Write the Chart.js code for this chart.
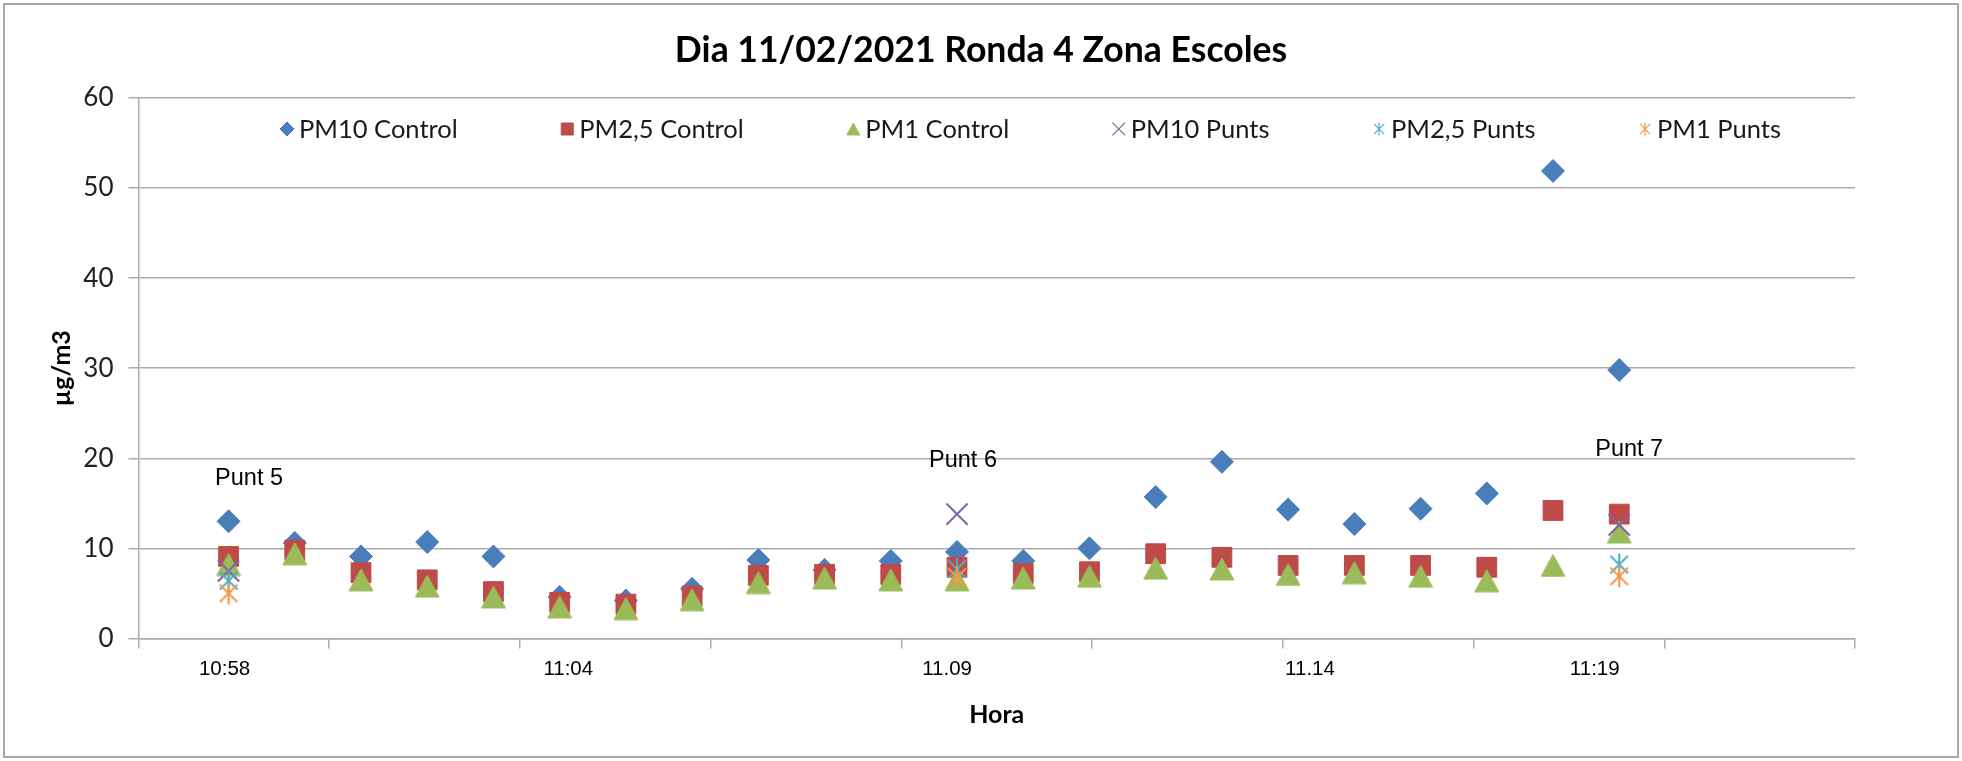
<!DOCTYPE html>
<html>
<head>
<meta charset="utf-8">
<title>Dia 11/02/2021 Ronda 4 Zona Escoles</title>
<script src="https://cdn.jsdelivr.net/npm/chart.js@4.4.1/dist/chart.umd.min.js"></script>
<style>
  html, body { margin: 0; padding: 0; background: #fff; }
  #wrap { width: 1962px; height: 761px; }
</style>
</head>
<body>
<div id="wrap"><canvas id="chart" width="1962" height="761"></canvas></div>
<script>
(() => {
  "use strict";

  // ====== Data (one reading per minute) ======
  const times = [
    "10:58", "10:59", "11:00", "11:01", "11:02", "11:03", "11:04", "11:05",
    "11:06", "11:07", "11:08", "11:09", "11:10", "11:11", "11:12", "11:13",
    "11:14", "11:15", "11:16", "11:17", "11:18", "11:19"
  ];

  const pm10Control = [13.0, 10.6, 9.1, 10.7, 9.1, 4.6, 4.2, 5.5, 8.7, 7.6, 8.6,
                       9.6, 8.6, 10.0, 15.7, 19.6, 14.3, 12.7, 14.4, 16.1, 51.9, 29.8];
  const pm25Control = [9.1, 9.8, 7.3, 6.5, 5.2, 4.0, 3.8, 4.7, 7.0, 7.1, 7.1,
                       7.9, 7.2, 7.4, 9.4, 9.0, 8.1, 8.1, 8.1, 7.9, 14.2, 13.8];
  const pm1Control  = [8.2, 9.4, 6.5, 5.8, 4.6, 3.5, 3.3, 4.3, 6.2, 6.7, 6.5,
                       6.5, 6.7, 6.9, 7.8, 7.7, 7.1, 7.3, 6.9, 6.4, 8.1, 11.8];

  // measurements at the three points (Punt 5, 6, 7)
  const pm10Punts = [7.5, null, null, null, null, null, null, null, null, null, null,
                     13.8, null, null, null, null, null, null, null, null, null, 12.6];
  const pm25Punts = [6.4, null, null, null, null, null, null, null, null, null, null,
                     7.7, null, null, null, null, null, null, null, null, null, 8.2];
  const pm1Punts  = [5.0, null, null, null, null, null, null, null, null, null, null,
                     6.8, null, null, null, null, null, null, null, null, null, 6.9];

  // x axis like the spreadsheet: day fractions 0.456 .. 0.474, major unit 0.002
  const xMinDay = 0.456;
  const xMaxDay = 0.474;
  const xStepDay = 0.002;

  // hand-placed time labels under the axis (minutes since midnight)
  const axisLabels = ["10:58", "11:04", "11.09", "11.14", "11:19"];
  const axisLabelAt = [657.94, 663.13, 668.85, 674.33, 678.63];

  // "Punt" notes (minutes, µg/m3)
  const puntNotes = ["Punt 5", "Punt 6", "Punt 7"];
  const puntNoteX = [658.31, 669.09, 679.15];
  const puntNoteY = [17.8, 19.8, 21.0];

  const TITLE = "Dia 11/02/2021 Ronda 4 Zona Escoles";

  // ====== Style ======
  const COLORS = {
    pm10: "#4A7EBB",
    pm25: "#BE4B48",
    pm1: "#9BBB59",
    pm10p: "#8064A2",
    pm25p: "#4BACC6",
    pm1p: "#F79646"
  };
  const GRID = "#ababab";
  const CALIBRI = "Lato, 'Liberation Sans', sans-serif";
  const ARIAL = "'Liberation Sans', Arial, sans-serif";

  const toMinutes = (t) => {
    const [h, m] = t.split(":").map(Number);
    return h * 60 + m;
  };

  function toPoints(values) {
    const pts = [];
    values.forEach((v, i) => {
      if (v !== null) pts.push({ x: toMinutes(times[i]), y: v });
    });
    return pts;
  }

  // Excel-ish markers that Chart.js has no style for
  function triangleMarker(w, h, color) {
    const c = document.createElement("canvas");
    c.width = w + 2;
    c.height = h + 2;
    const g = c.getContext("2d");
    g.fillStyle = color;
    g.strokeStyle = color;
    g.beginPath();
    g.moveTo(c.width / 2, 1);
    g.lineTo(w + 1, h + 1);
    g.lineTo(1, h + 1);
    g.closePath();
    g.fill();
    g.stroke();
    return c;
  }

  function starMarker(size, color, lw) {
    const c = document.createElement("canvas");
    c.width = c.height = Math.ceil(size + lw * 2);
    const g = c.getContext("2d");
    const m = c.width / 2;
    const r = size / 2;
    const d = r * 0.8;
    g.strokeStyle = color;
    g.lineWidth = lw;
    g.beginPath();
    g.moveTo(m, m - r); g.lineTo(m, m + r);
    g.moveTo(m - d, m - d); g.lineTo(m + d, m + d);
    g.moveTo(m + d, m - d); g.lineTo(m - d, m + d);
    g.stroke();
    return c;
  }

  // ====== Plugins ======
  // white page, grey frame and the title centred on the whole picture
  const framePlugin = {
    id: "frame",
    beforeDraw(chart) {
      const ctx = chart.ctx;
      ctx.save();
      ctx.fillStyle = "#fff";
      ctx.fillRect(0, 0, chart.width, chart.height);
      ctx.restore();
    },
    afterDraw(chart) {
      const ctx = chart.ctx;
      ctx.save();
      ctx.strokeStyle = "#8c8c8c";
      ctx.lineWidth = 1.5;
      ctx.strokeRect(4, 4, chart.width - 8, chart.height - 8);
      ctx.font = `bold 35.6px ${CALIBRI}`;
      ctx.fillStyle = "#000";
      ctx.textAlign = "center";
      ctx.textBaseline = "middle";
      ctx.fillText(TITLE, chart.width / 2, 51);
      ctx.restore();
    }
  };

  const notesPlugin = {
    id: "puntNotes",
    afterDatasetsDraw(chart) {
      const { ctx, scales } = chart;
      ctx.save();
      ctx.font = `23.5px ${ARIAL}`;
      ctx.fillStyle = "#000";
      ctx.textAlign = "center";
      ctx.textBaseline = "middle";
      puntNotes.forEach((txt, i) => {
        ctx.fillText(txt, scales.x.getPixelForValue(puntNoteX[i]), scales.y.getPixelForValue(puntNoteY[i]));
      });
      ctx.restore();
    }
  };

  // legend sits inside the plot, between the 60 and 50 gridlines
  const LEGEND_LEFT = 280;
  const LEGEND_RIGHT = 1781;
  const LEGEND_Y = 129;
  const legendPlugin = {
    id: "sheetLegend",
    afterDraw(chart) {
      const ctx = chart.ctx;
      const markerW = 14;
      const markerGap = 5;
      ctx.save();
      ctx.font = `25.5px ${CALIBRI}`;
      const items = chart.data.datasets.map((ds) => ({ ds, w: ctx.measureText(ds.label).width }));
      const used = items.reduce((s, it) => s + markerW + markerGap + it.w, 0);
      const gap = (LEGEND_RIGHT - LEGEND_LEFT - used) / (items.length - 1);
      let x = LEGEND_LEFT;
      for (const { ds, w } of items) {
        const mk = ds.legendMarker;
        ctx.fillStyle = ds.backgroundColor;
        ctx.strokeStyle = ds.borderColor;
        ctx.lineWidth = mk.borderWidth;
        Chart.helpers.drawPoint(ctx, {
          pointStyle: mk.pointStyle,
          radius: mk.radius,
          rotation: 0,
          borderWidth: mk.borderWidth
        }, x + markerW / 2, LEGEND_Y);
        ctx.fillStyle = "#1a1a1a";
        ctx.textAlign = "left";
        ctx.textBaseline = "middle";
        ctx.fillText(ds.label, x + markerW + markerGap, LEGEND_Y + 1);
        x += markerW + markerGap + w + gap;
      }
      ctx.restore();
    }
  };

  // ====== Datasets ======
  const datasets = [
    {
      label: "PM10 Control",
      data: toPoints(pm10Control),
      pointStyle: "rectRot",
      pointRadius: 11.5,
      borderWidth: 1,
      backgroundColor: COLORS.pm10,
      borderColor: COLORS.pm10,
      order: 6,
      legendMarker: { pointStyle: "rectRot", radius: 7, borderWidth: 1 }
    },
    {
      label: "PM2,5 Control",
      data: toPoints(pm25Control),
      pointStyle: "rect",
      pointRadius: 14,
      borderWidth: 1,
      backgroundColor: COLORS.pm25,
      borderColor: COLORS.pm25,
      order: 5,
      legendMarker: { pointStyle: "rect", radius: 8.5, borderWidth: 1 }
    },
    {
      label: "PM1 Control",
      data: toPoints(pm1Control),
      pointStyle: triangleMarker(24, 22, COLORS.pm1),
      pointRadius: 12,
      borderWidth: 1,
      backgroundColor: COLORS.pm1,
      borderColor: COLORS.pm1,
      order: 4,
      legendMarker: { pointStyle: triangleMarker(13, 12, COLORS.pm1), radius: 6, borderWidth: 0 }
    },
    {
      label: "PM10 Punts",
      data: toPoints(pm10Punts),
      pointStyle: "crossRot",
      pointRadius: 15,
      borderWidth: 2,
      backgroundColor: COLORS.pm10p,
      borderColor: COLORS.pm10p,
      order: 3,
      legendMarker: { pointStyle: "crossRot", radius: 9, borderWidth: 1.2 }
    },
    {
      label: "PM2,5 Punts",
      data: toPoints(pm25Punts),
      pointStyle: starMarker(22, COLORS.pm25p, 2),
      pointRadius: 11,
      borderWidth: 2,
      backgroundColor: COLORS.pm25p,
      borderColor: COLORS.pm25p,
      order: 2,
      legendMarker: { pointStyle: starMarker(13, COLORS.pm25p, 1.2), radius: 6, borderWidth: 0 }
    },
    {
      label: "PM1 Punts",
      data: toPoints(pm1Punts),
      pointStyle: starMarker(22, COLORS.pm1p, 2),
      pointRadius: 11,
      borderWidth: 2,
      backgroundColor: COLORS.pm1p,
      borderColor: COLORS.pm1p,
      order: 1,
      legendMarker: { pointStyle: starMarker(13, COLORS.pm1p, 1.2), radius: 6, borderWidth: 0 }
    }
  ];

  const xMin = xMinDay * 1440;
  const xMax = xMaxDay * 1440;
  const xStep = xStepDay * 1440;

  new Chart(document.getElementById("chart").getContext("2d"), {
    type: "scatter",
    data: { datasets },
    plugins: [framePlugin, notesPlugin, legendPlugin],
    options: {
      responsive: false,
      animation: false,
      events: [],
      layout: { padding: { left: 43, right: 107, top: 98, bottom: 26.6 } },
      plugins: {
        legend: { display: false },
        tooltip: { enabled: false },
        title: { display: false }
      },
      scales: {
        x: {
          type: "linear",
          min: xMin,
          max: xMax,
          afterBuildTicks(scale) {
            const ticks = [];
            for (let k = 0; k * xStep <= xMax - xMin + 1e-6; k++) {
              ticks.push({ value: xMin + k * xStep, text: "" });
            }
            axisLabels.forEach((t, i) => ticks.push({ value: axisLabelAt[i], text: t }));
            ticks.sort((a, b) => a.value - b.value);
            scale.ticks = ticks;
          },
          afterFit(scale) { scale.height = 96; },
          grid: {
            drawOnChartArea: false,
            drawTicks: true,
            tickLength: 10,
            lineWidth: 1.5,
            tickColor: (c) => (c.tick && c.tick.text ? "rgba(0,0,0,0)" : GRID)
          },
          border: { display: true, color: GRID, width: 1.5 },
          ticks: {
            autoSkip: false,
            maxRotation: 0,
            padding: 9,
            color: "#000",
            font: { family: ARIAL, size: 20.5 },
            callback: (v, i, ticks) => ticks[i].text || ""
          },
          title: {
            display: true,
            text: "Hora",
            color: "#000",
            font: { family: CALIBRI, size: 25, weight: "bold" }
          }
        },
        y: {
          min: 0,
          max: 60,
          afterFit(scale) { scale.width = 95.5; },
          grid: { color: GRID, lineWidth: 1.5, tickLength: 10 },
          border: { display: true, color: GRID, width: 1.5 },
          ticks: {
            stepSize: 10,
            padding: 15,
            color: "#222",
            font: { family: CALIBRI, size: 26 }
          },
          title: {
            display: true,
            text: "µg/m3",
            color: "#000",
            font: { family: CALIBRI, size: 25, weight: "bold" }
          }
        }
      }
    }
  });
})();
</script>
</body>
</html>
